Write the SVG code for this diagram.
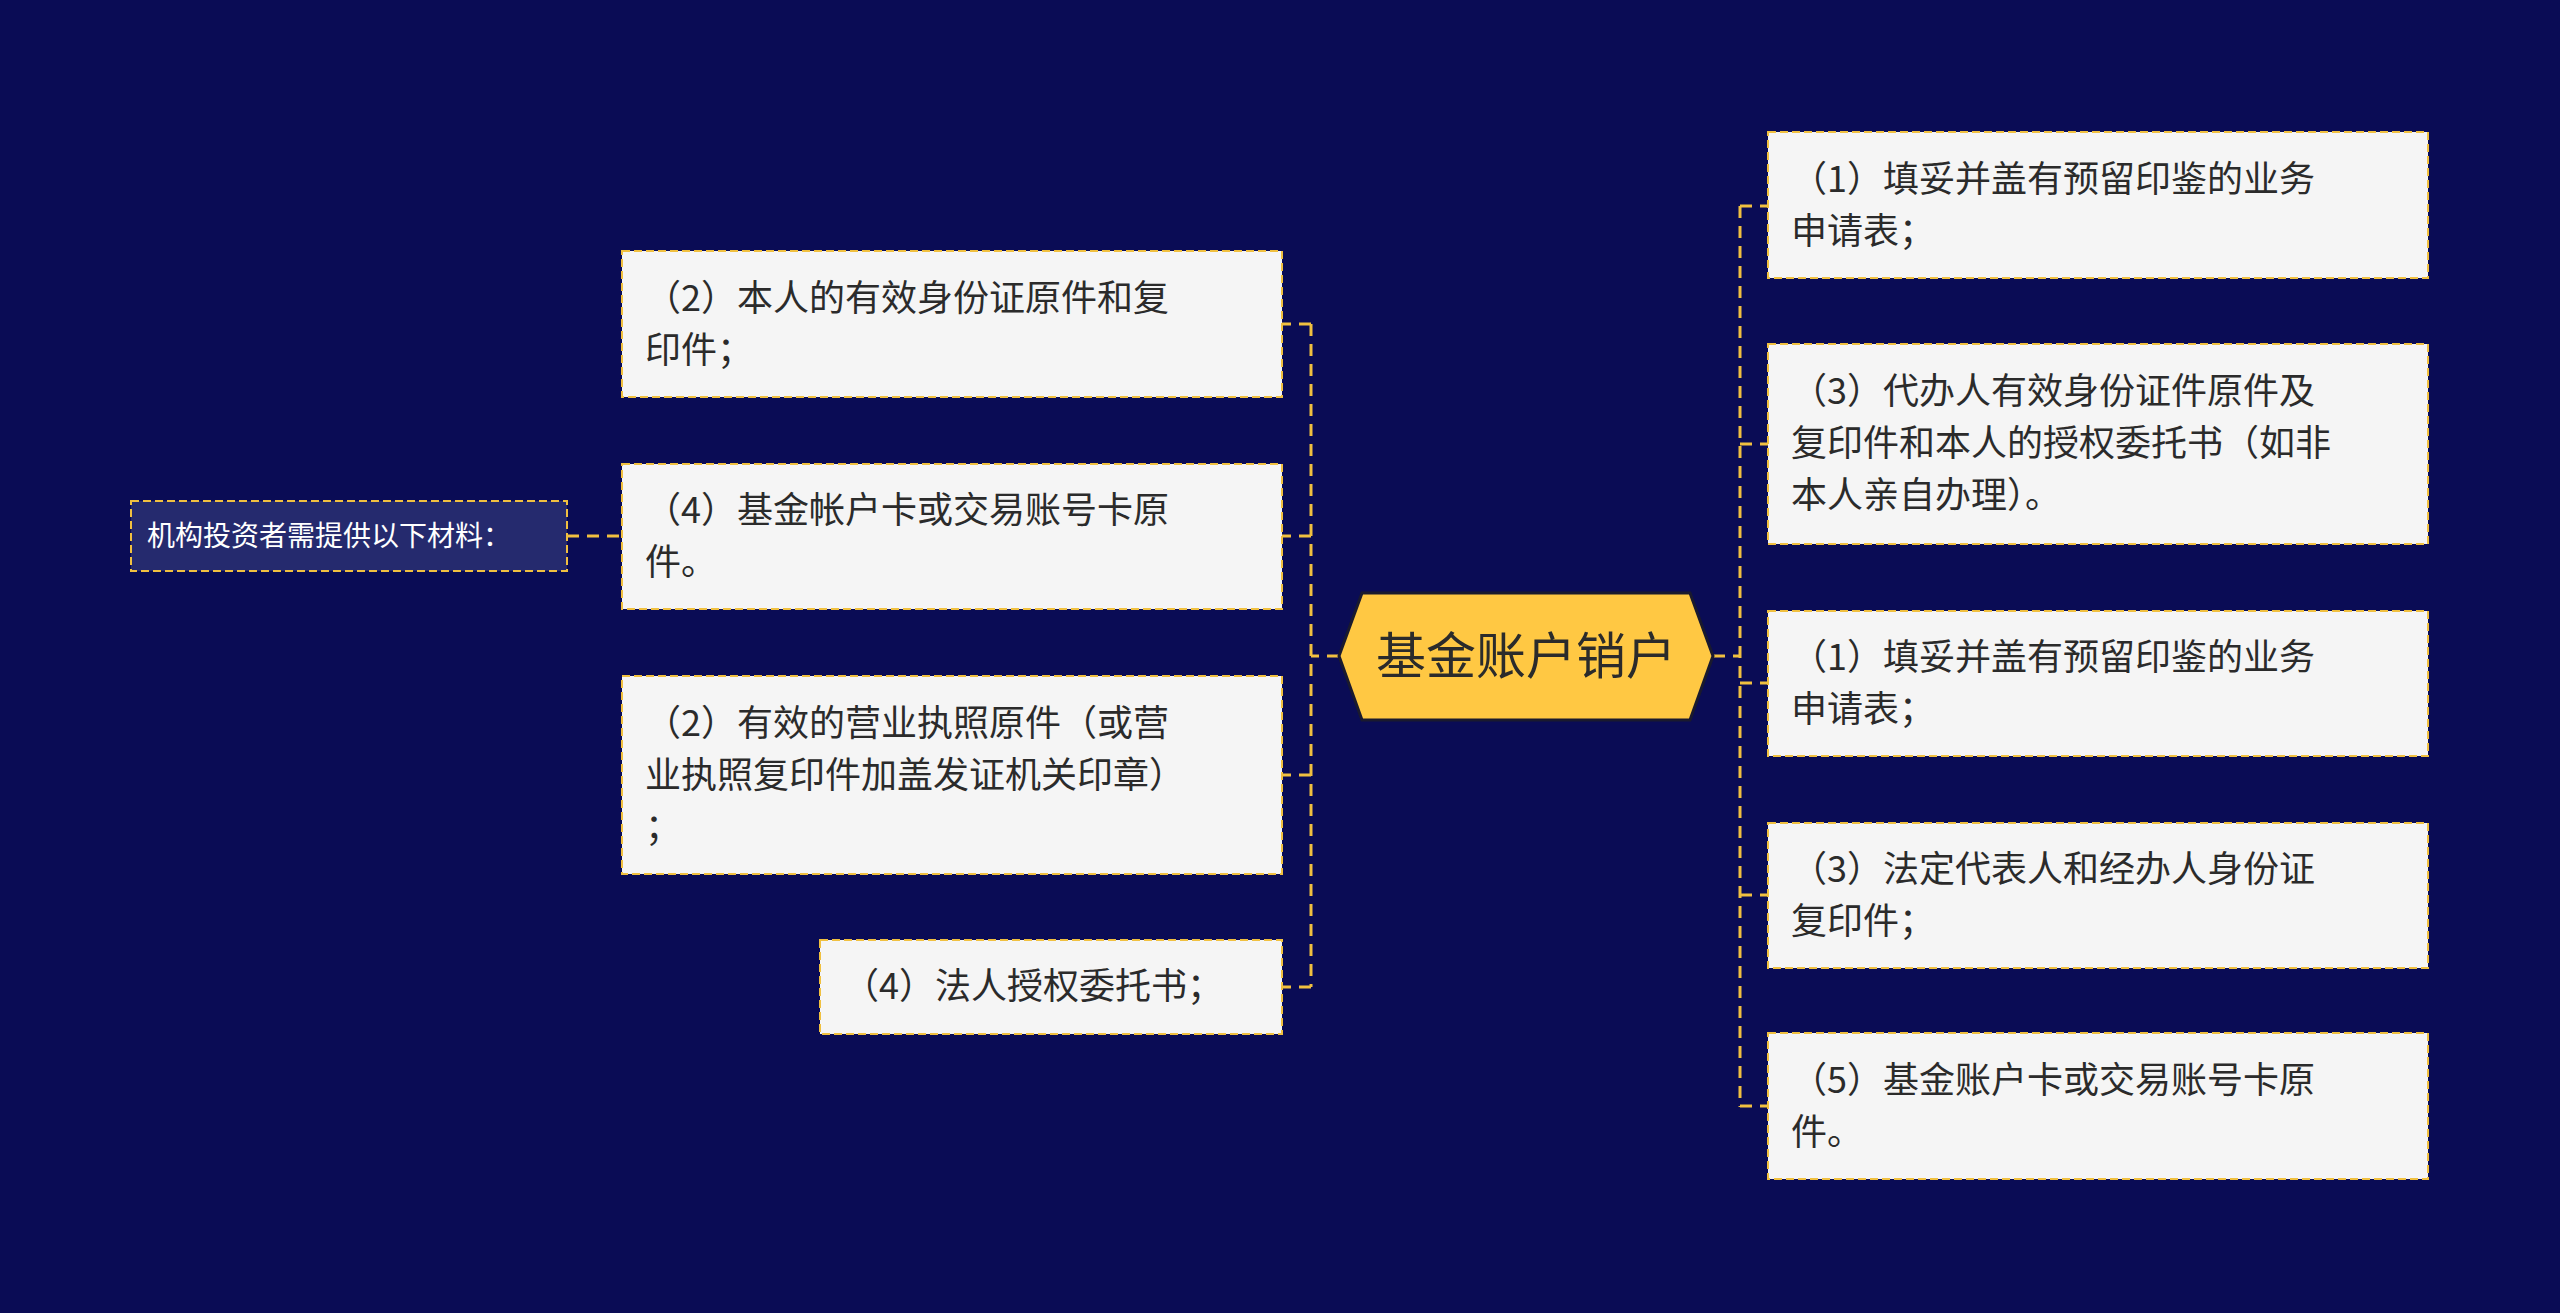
<svg xmlns="http://www.w3.org/2000/svg" width="2560" height="1313" viewBox="0 0 2560 1313">
<style>
.box{fill:#f5f5f5;stroke:#f0c040;stroke-width:2;stroke-dasharray:8 4}
.t{font-family:"Noto Sans CJK SC","Noto Sans",sans-serif;font-size:36px;fill:#2b2b2b}
.c{fill:none;stroke:#f0c040;stroke-width:3;stroke-dasharray:12 8}
</style>
<rect width="2560" height="1313" fill="#0a0c55"/>
<g id="connectors">
<path class="c" d="M1713 656H1740M1740 206V1107M1740 206H1768M1740 444H1768M1740 683H1768M1740 895H1768M1740 1106H1768"/>
<path class="c" d="M1339 656H1311M1311 324V987M1311 324H1282M1311 536H1282M1311 775H1282M1311 987H1282"/>
<path class="c" d="M567 536H622"/>
</g>
<g id="center">
<polygon points="1339,656 1362,593 1690,593 1713,656 1690,720 1362,720" fill="#ffc843" stroke="#1a1a2e" stroke-width="3"/>
<text x="1526" y="674" text-anchor="middle" font-family="Noto Sans CJK SC,sans-serif" font-size="50" fill="#2b2b2b">基金账户销户</text>
</g>
<g id="r1"><rect class="box" x="1768" y="132" width="660" height="146"/>
<text class="t" x="1791" y="192">（1）填妥并盖有预留印鉴的业务</text><text class="t" x="1791" y="244">申请表；</text></g>
<g id="r2"><rect class="box" x="1768" y="344" width="660" height="200"/>
<text class="t" x="1791" y="404">（3）代办人有效身份证件原件及</text><text class="t" x="1791" y="456">复印件和本人的授权委托书（如非</text><text class="t" x="1791" y="508">本人亲自办理）。</text></g>
<g id="r3"><rect class="box" x="1768" y="611" width="660" height="145"/>
<text class="t" x="1791" y="670">（1）填妥并盖有预留印鉴的业务</text><text class="t" x="1791" y="722">申请表；</text></g>
<g id="r4"><rect class="box" x="1768" y="823" width="660" height="145"/>
<text class="t" x="1791" y="882">（3）法定代表人和经办人身份证</text><text class="t" x="1791" y="934">复印件；</text></g>
<g id="r5"><rect class="box" x="1768" y="1033" width="660" height="146"/>
<text class="t" x="1791" y="1093">（5）基金账户卡或交易账号卡原</text><text class="t" x="1791" y="1145">件。</text></g>
<g id="l1"><rect class="box" x="622" y="251" width="660" height="146"/>
<text class="t" x="645" y="311">（2）本人的有效身份证原件和复</text><text class="t" x="645" y="363">印件；</text></g>
<g id="l2"><rect class="box" x="622" y="464" width="660" height="145"/>
<text class="t" x="645" y="523">（4）基金帐户卡或交易账号卡原</text><text class="t" x="645" y="575">件。</text></g>
<g id="l3"><rect class="box" x="622" y="676" width="660" height="198"/>
<text class="t" x="645" y="736">（2）有效的营业执照原件（或营</text><text class="t" x="645" y="788">业执照复印件加盖发证机关印章）</text><text class="t" x="645" y="840">；</text></g>
<g id="l4"><rect class="box" x="820" y="940" width="462" height="94"/>
<text class="t" x="843" y="999">（4）法人授权委托书；</text></g>
<g id="far"><rect x="131" y="501" width="436" height="70" fill="#252a6e" stroke="#f0c040" stroke-width="2" stroke-dasharray="8 4"/>
<text x="147" y="546" font-family="Noto Sans CJK SC,sans-serif" font-size="28" fill="#ffffff">机构投资者需提供以下材料：</text></g>
</svg>
